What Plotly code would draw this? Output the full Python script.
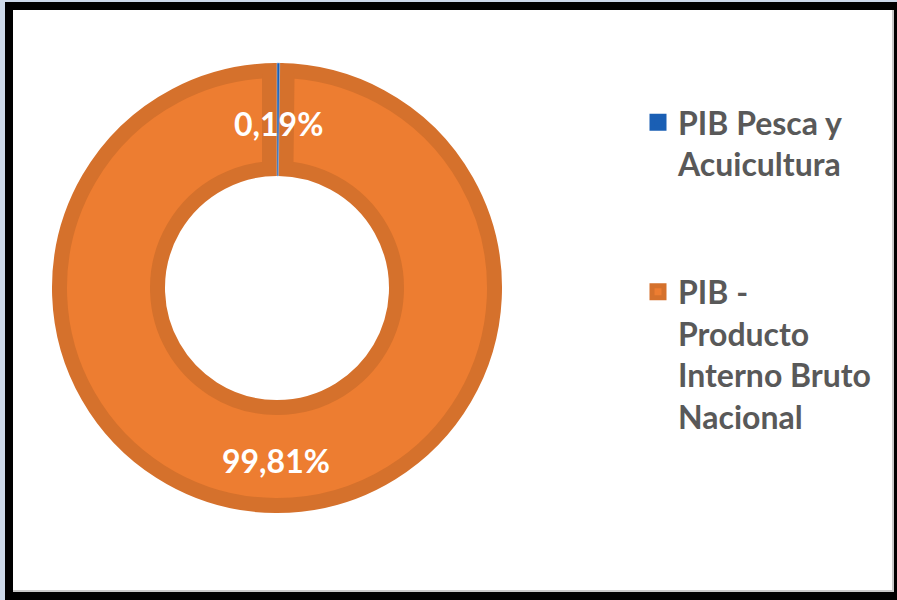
import math
import plotly.graph_objects as go

# ---- data ----
labels = ["PIB Pesca y<br>Acuicultura<br>\u00a0<br>\u00a0",
          "PIB -<br>Producto<br>Interno Bruto<br>Nacional"]
values = [0.19, 99.81]
slice_colors = ["#1a5fb4", "#ed7d31"]
pct_text = [f"{v:.2f}".replace(".", ",") + "%" for v in values]

# ---- styling / geometry ----
W, H = 897, 600
CX, CY = 277, 288
R_OUT, R_IN = 225, 112
BAND = 15
BAND_COLOR = "#d5712c"
CLEAR = "rgba(0,0,0,0)"
FONT = "Lato"


def dom(r):
    return dict(x=[(CX - r) / W, (CX + r) / W],
                y=[1 - (CY + r) / H, 1 - (CY - r) / H])


common = dict(labels=labels, values=values, sort=False, direction="clockwise",
              rotation=0)

fig = go.Figure()

# main ring with darker inner band (stroke)
r1 = R_OUT - BAND / 2
fig.add_trace(go.Pie(
    **common,
    domain=dom(r1), hole=(R_IN + BAND / 2) / r1,
    marker=dict(colors=slice_colors,
                line=dict(color=[slice_colors[0], BAND_COLOR], width=BAND)),
    textinfo="none", hoverinfo="label+percent", showlegend=True,
))

# darker band along the slice boundary
r2 = R_OUT - BAND
fig.add_trace(go.Pie(
    **common,
    domain=dom(r2), hole=(R_IN + BAND) / r2,
    marker=dict(colors=[BAND_COLOR, CLEAR], line=dict(color=[BAND_COLOR, CLEAR], width=2 * BAND)),
    textinfo="none", hoverinfo="skip", showlegend=False,
))

# thin blue slice on top
fig.add_trace(go.Pie(
    **common,
    domain=dom(R_OUT), hole=R_IN / R_OUT,
    marker=dict(colors=[slice_colors[0], CLEAR], line=dict(color=["#a9c4e8", CLEAR], width=0.6)),
    textinfo="none", hoverinfo="skip", showlegend=False,
))

# percentage labels at the middle of each slice, mid-ring
total = sum(values)
cum = 0
r_mid = (R_OUT + R_IN) / 2
for v, t in zip(values, pct_text):
    ang = math.radians(360 * (cum + v / 2) / total)
    cum += v
    fig.add_annotation(
        x=(CX + r_mid * math.sin(ang)) / W, y=1 - (CY - r_mid * math.cos(ang)) / H,
        xref="paper", yref="paper", text=t, showarrow=False, yshift=-4,
        font=dict(family=FONT, size=32, color="white", weight="bold"),
        xanchor="center", yanchor="middle",
    )

# frame
fig.add_shape(type="rect", xref="paper", yref="paper", layer="below",
              x0=5 / W, x1=1, y0=0, y1=1 - 2 / H, fillcolor="black", line_width=0)
fig.add_shape(type="rect", xref="paper", yref="paper", layer="below",
              x0=13 / W, x1=894 / W, y0=1 - 592 / H, y1=1 - 10 / H,
              fillcolor="#c9c9c9", line_width=0)
fig.add_shape(type="rect", xref="paper", yref="paper", layer="below",
              x0=13 / W, x1=892 / W, y0=1 - 590 / H, y1=1 - 10 / H,
              fillcolor="white", line_width=0)

fig.update_layout(
    width=W, height=H,
    margin=dict(l=0, r=0, t=0, b=0),
    paper_bgcolor="#cdd9ea", plot_bgcolor="white",
    legend=dict(x=638 / W, y=1 - 95 / H, xanchor="left", yanchor="top",
                valign="top", bgcolor=CLEAR,
                font=dict(family=FONT, size=32, color="#595959", weight="bold")),
)

fig.write_html("out.html", config={"displayModeBar": False},
               post_script="document.body.style.margin='0';document.body.style.overflow='hidden';")
